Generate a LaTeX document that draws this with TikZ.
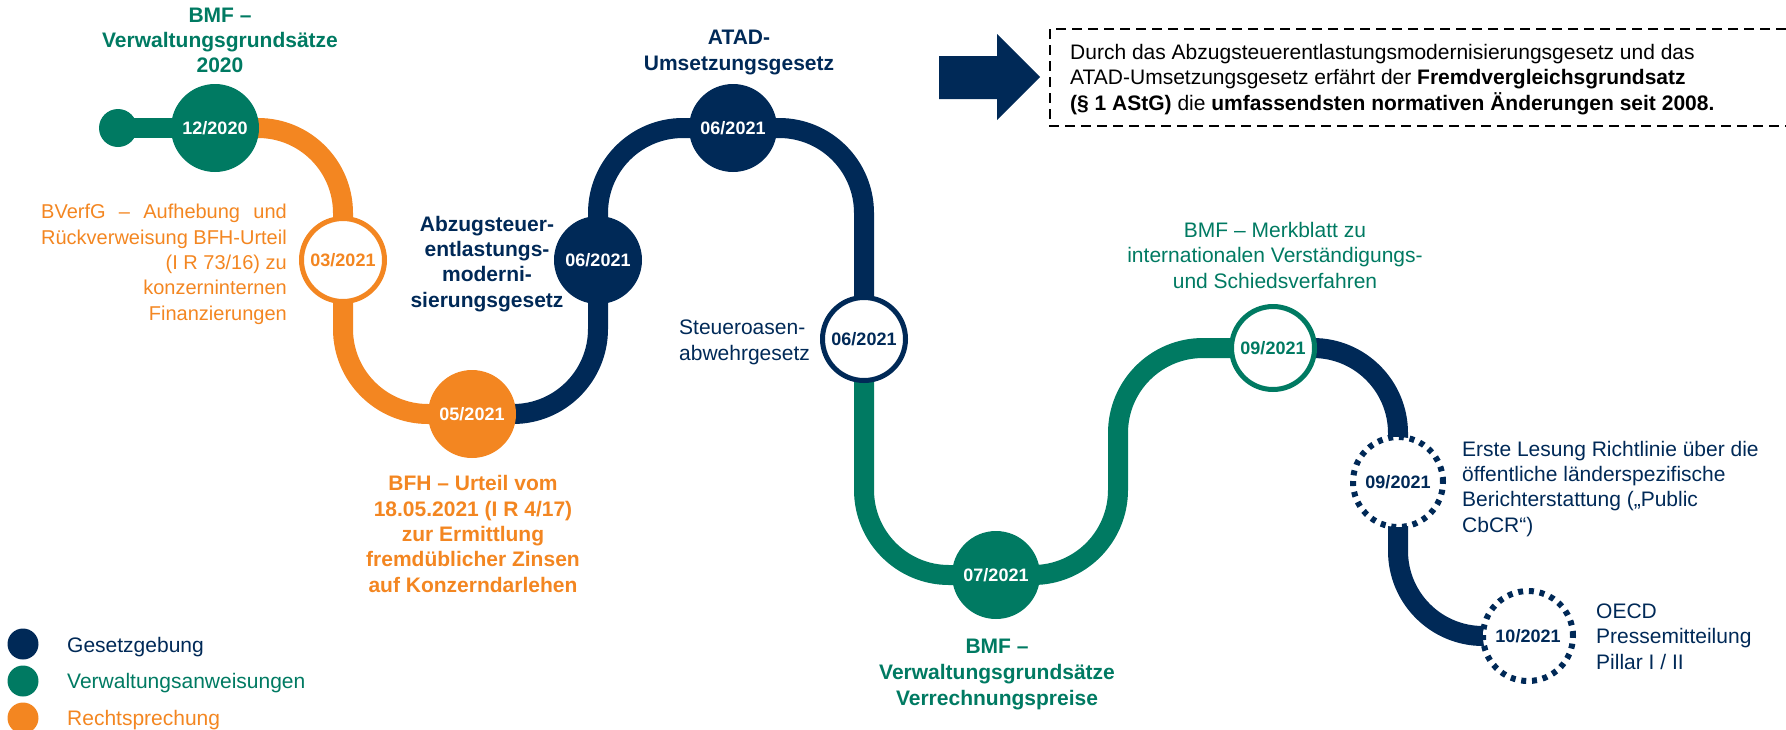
\documentclass[tikz,border=0pt]{standalone}
\usepackage{fontspec}
\setmainfont{Liberation Sans}
\usetikzlibrary{backgrounds}
\definecolor{navyc}{RGB}{0,41,87}
\definecolor{greenc}{RGB}{0,122,98}
\definecolor{orangec}{RGB}{243,134,33}
\newlength\bvlen
\begin{document}
\begin{tikzpicture}[x=1pt,y=-1pt,
  track/.style={line width=20pt},
  datefont/.style={font=\fontsize{18}{20}\selectfont\bfseries},
  datefill/.style={circle, minimum size=88pt, inner sep=0pt, fill=#1, text=white, datefont},
  dateline/.style={circle, minimum size=83pt, inner sep=0pt, fill=white, draw=#1, line width=5pt, text=#1, datefont},
  datedot/.style={circle, minimum size=90pt, inner sep=0pt, fill=white, draw=navyc, line width=6pt, dash pattern=on 5pt off 5.8pt, text=navyc, datefont},
  title/.style={font=\fontsize{21}{25.3}\selectfont\bfseries, align=center, text=#1, inner sep=0pt, anchor=base},
  desc/.style={font=\fontsize{21}{25.3}\selectfont, text=#1, inner sep=0pt},
  legdot/.style={circle, minimum size=31pt, inner sep=0pt, fill=#1},
  framedash/.style={draw=black, line width=1.8pt, dash pattern=on 10pt off 6pt}
]
\useasboundingbox (0,0) rectangle (1786,729);

% date circles
\node[circle, fill=greenc, minimum size=38pt, inner sep=0pt] (start) at (118,128) {};
\node[datefill=greenc] (d1) at (215,128) {12/2020};
\node[dateline=orangec] (d2) at (343,260) {03/2021};
\node[datefill=orangec] (d3) at (472,414) {05/2021};
\node[datefill=navyc] (d4) at (598,260) {06/2021};
\node[datefill=navyc] (d5) at (733,128) {06/2021};
\node[dateline=navyc] (d6) at (864,339) {06/2021};
\node[datefill=greenc] (d7) at (996,575) {07/2021};
\node[dateline=greenc] (d8) at (1273,348) {09/2021};
\node[datedot] (d9) at (1398,482) {09/2021};
\node[datedot] (d10) at (1528,636) {10/2021};
\coordinate (g1) at (1118,575);
\coordinate (g2) at (1118,348);

% tracks
\begin{scope}[on background layer]
\draw[track, greenc] (start.center) -- (d1.center);
\draw[track, orangec, rounded corners=85pt] (d1.center) -- (d1.center -| d2.center) -- (d2.center |- d3.center) -- (d3.center);
\draw[track, navyc, rounded corners=85pt] (d3.center) -- (d3.center -| d4.center) -- (d4.center |- d5.center) -- (d5.center -| d6.center) -- (d6.center);
\draw[track, greenc, rounded corners=85pt] (d6.center) -- (d6.center |- d7.center) -- (g1) -- (g2) -- (d8.center);
\draw[track, navyc, rounded corners=85pt] (d8.center) -- (d8.center -| d9.center) -- (d9.center |- d10.center) -- (d10.center);
\end{scope}

% labels (anchor = baseline of last line)
\node[title=greenc] (t1) at (220,72.6) {BMF –\\Verwaltungsgrundsätze\\2020};
\node[desc=orangec, align=right, anchor=base east, font=\fontsize{20}{25.3}\selectfont] (t2) at (287,320) {\settowidth\bvlen{Rückverweisung BFH-Urteil}\makebox[\bvlen][s]{BVerfG – Aufhebung und}\\Rückverweisung BFH-Urteil\\(I R 73/16) zu\\konzerninternen\\Finanzierungen};
\node[title=orangec] (t3) at (473,592) {BFH – Urteil vom\\18.05.2021 (I R 4/17)\\zur Ermittlung\\fremdüblicher Zinsen\\auf Konzerndarlehen};
\node[title=navyc] (t4) at (487,307) {Abzugsteuer-\\entlastungs-\\moderni-\\sierungsgesetz};
\node[title=navyc] (t5) at (739,70) {ATAD-\\Umsetzungsgesetz};
\node[desc=navyc, align=left, anchor=base west] (t6) at (679,360) {Steueroasen-\\abwehrgesetz};
\node[title=greenc, font=\fontsize{21}{26}\selectfont\bfseries] (t7) at (997,705) {BMF –\\Verwaltungsgrundsätze\\Verrechnungspreise};
\node[desc=greenc, align=center, anchor=base] (t8) at (1275,288) {BMF – Merkblatt zu\\internationalen Verständigungs-\\und Schiedsverfahren};
\node[desc=navyc, align=left, anchor=base west] (t9) at (1462,532) {Erste Lesung Richtlinie über die\\öffentliche länderspezifische\\Berichterstattung („Public\\CbCR“)};
\node[desc=navyc, align=left, anchor=base west] (t10) at (1596,669) {OECD\\Pressemitteilung\\Pillar I / II};

% arrow and note
\fill[navyc] (939,56) -- (997,56) -- (997,34) -- (1040,77) -- (997,120) -- (997,99) -- (939,99) -- cycle;
\draw[framedash] (1786,29) -- (1050,29) -- (1050,126) -- (1786,126);
\node[desc=black, align=left, anchor=base west] (note) at (1070,110) {Durch das Abzugsteuerentlastungsmodernisierungsgesetz und das\\ATAD-Umsetzungsgesetz erfährt der \textbf{Fremdvergleichsgrundsatz}\\\textbf{(§ 1 AStG)} die \textbf{umfassendsten normativen Änderungen seit 2008.}};

% legend
\node[legdot=navyc] (l1) at (23,644) {};
\node[legdot=greenc] (l2) at (23,681) {};
\node[legdot=orangec] (l3) at (23,718) {};
\node[desc=navyc, anchor=base west] (lt1) at (67,652) {Gesetzgebung};
\node[desc=greenc, anchor=base west] (lt2) at (67,688) {Verwaltungsanweisungen};
\node[desc=orangec, anchor=base west] (lt3) at (67,725) {Rechtsprechung};
\end{tikzpicture}
\end{document}
